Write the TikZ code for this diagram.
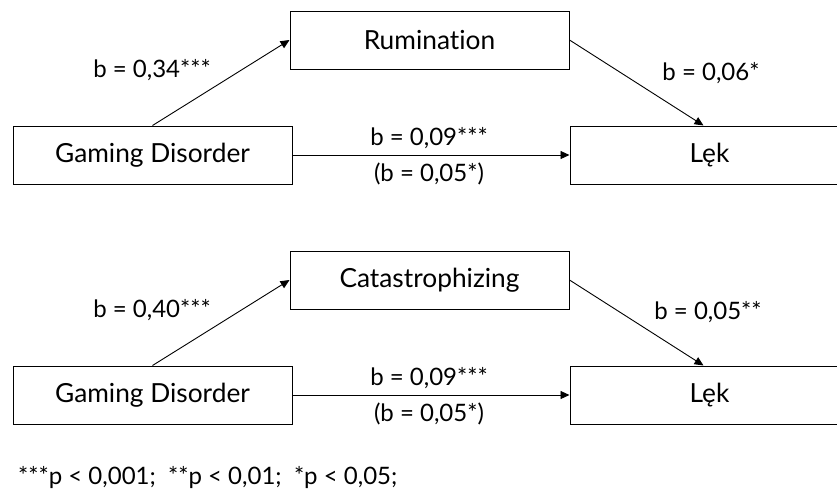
\documentclass[tikz,border=0pt]{standalone}
\usepackage{fontspec}
\setmainfont{Lato}[Ligatures={NoCommon}]
\usetikzlibrary{arrows.meta,calc}
\tikzset{
  varbox/.style={draw=black,line width=1pt,rectangle,minimum width=279pt,minimum height=58pt,inner sep=0pt,font=\fontsize{26.3}{30}\selectfont},
  lbl/.style={inner sep=0pt,font=\fontsize{24}{28}\selectfont},
  path/.style={draw=black,line width=0.9pt,-{Triangle[length=9pt,width=8pt]}}
}
\begin{document}
\begin{tikzpicture}[x=1pt,y=-1pt]
\useasboundingbox (0,0) rectangle (837,493);
% top model
\node[varbox] (rum) at (429.5,40) {Rumination};
\node[varbox] (gd1) at (152.5,155) {Gaming Disorder};
\node[varbox] (lek1) at (709.5,155) {Lęk};
\draw[path] (gd1.north) -- (rum.west);
\draw[path] (rum.east) -- ([xshift=-6pt]lek1.north);
\draw[path] (gd1.east) -- (lek1.west);
\node[lbl] (a1) at (152,70) {b = 0,34***};
\node[lbl] (b1) at (711,73) {b = 0,06*};
\node[lbl] (c1) at (429,138) {b = 0,09***};
\node[lbl] (d1) at (429,174) {(b = 0,05*)};
% bottom model
\node[varbox] (cat) at (429.5,280) {Catastrophizing};
\node[varbox] (gd2) at (152.5,395) {Gaming Disorder};
\node[varbox] (lek2) at (709.5,395) {Lęk};
\draw[path] (gd2.north) -- (cat.west);
\draw[path] (cat.east) -- ([xshift=-6pt]lek2.north);
\draw[path] (gd2.east) -- (lek2.west);
\node[lbl] (a2) at (152,310) {b = 0,40***};
\node[lbl] (b2) at (708,312) {b = 0,05**};
\node[lbl] (c2) at (429,378) {b = 0,09***};
\node[lbl] (d2) at (429,414) {(b = 0,05*)};
% footnote
\node[lbl,anchor=base west] (fn) at (18,484) {***p < 0,001;\ \ **p < 0,01;\ \ *p < 0,05;};
\end{tikzpicture}
\end{document}
